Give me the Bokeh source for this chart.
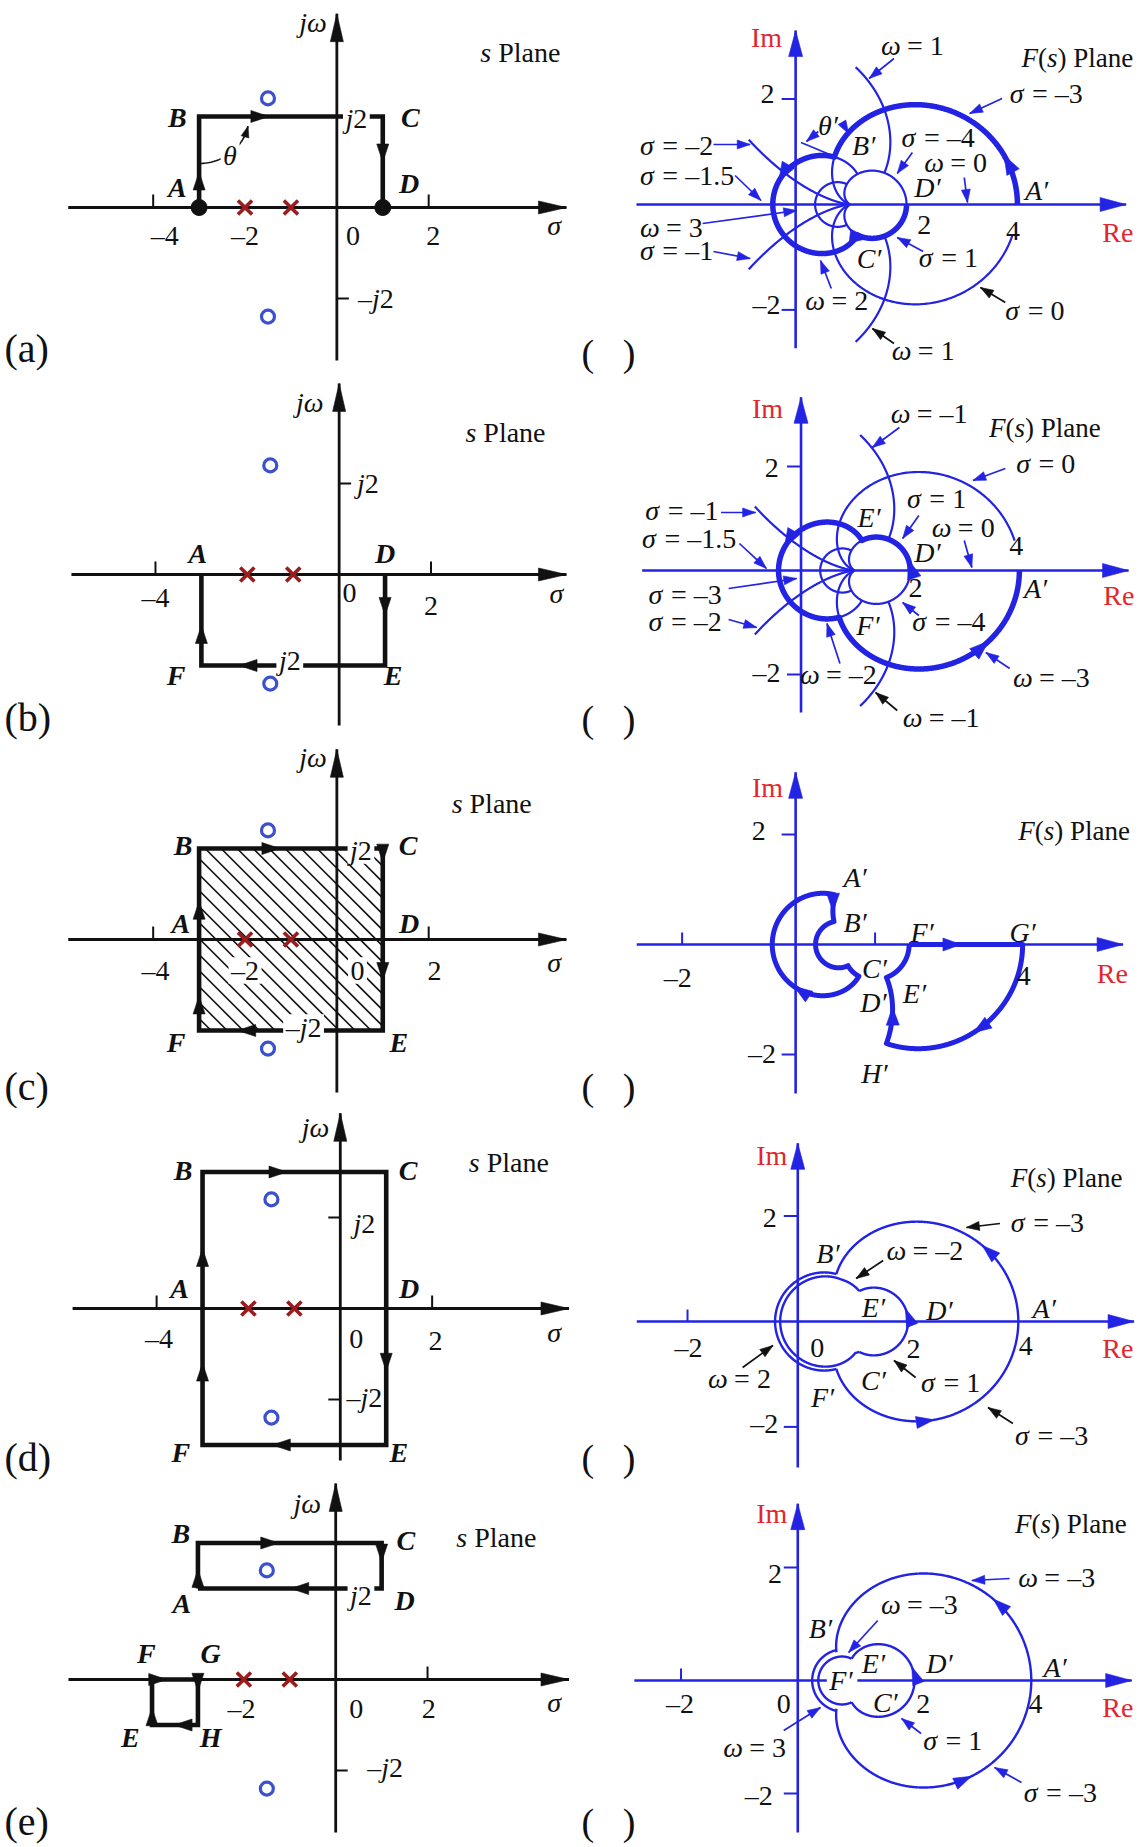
import numpy as np
from bokeh.plotting import figure
from bokeh.models import Range1d
from bokeh.layouts import column, row
from bokeh.embed import file_html
from bokeh.resources import INLINE
from bokeh.core.properties import value

# ------------------------------------------------------------------ data
NUM = [1.0, 3.0, 8.0]          # F(s) = (s^2 + 3 s + 8) / ((s + 1)(s + 2))
DEN = [1.0, 3.0, 2.0]
POLES = np.roots(DEN)
ZEROS = np.roots(NUM)

# s-plane contours, vertices (sigma, omega)
CONTOUR_A = [(-3, 0), (-3, 2), (1, 2), (1, 0)]
CONTOUR_B = [(1, 0), (1, -2), (-3, -2), (-3, 0)]
CONTOUR_C = [(-3, 0), (-3, 2), (1, 2), (1, 0), (1, -2), (-3, -2), (-3, 0)]
CONTOUR_D = [(-3, 0), (-3, 3), (1, 3), (1, 0), (1, -3), (-3, -3), (-3, 0)]
CONTOUR_E1 = [(-3, 2), (-3, 3), (1, 3), (1, 2), (-3, 2)]
CONTOUR_E2 = [(-4, 0), (-3, 0), (-3, -1), (-4, -1), (-4, 0)]

S_TICKS_SIGMA = [[-4, 2], [-4, 2], [-4, 2], [-4, 2], [2]]
S_TICKS_JW = [[-2], [2], [], [2, -2], [-2]]
F_TICKS_IM = [-2, 2]
F_TICKS_RE = [[], [], [-2, 1.4], [-2], [-2]]

# images of s-plane lines: (family, constant, from, to); "sigma": s = c + j t, "omega": s = t + j c
GRID_A_THIN = [("sigma", -3, 2, 12), ("sigma", 0, 0.13, 12), ("sigma", -4, 0, 12),
               ("sigma", 1, 2, 12), ("sigma", -2, 1.5, 25), ("sigma", -1, 1.5, 25),
               ("omega", 1, -4, -2.65), ("omega", 1, -0.35, 1), ("omega", 2, -4, -3),
               ("omega", 3, -4, 1)]
GRID_A_THICK = [("sigma", -3, 0, 2), ("omega", 2, -3, 1), ("sigma", 1, 2, 0)]
GRID_B_THIN = [("sigma", -3, -2, -12), ("sigma", 0, -0.13, -12), ("sigma", -4, 0, -12),
               ("sigma", 1, -2, -12), ("sigma", -2, -1.5, -25), ("sigma", -1, -1.5, -25),
               ("omega", -1, -4, -2.65), ("omega", -1, -0.35, 1), ("omega", -2, -4, -3),
               ("omega", -3, -4, 1)]
GRID_B_THICK = [("sigma", 1, 0, -2), ("omega", -2, 1, -3), ("sigma", -3, -2, 0)]

# ------------------------------------------------------------------ style / layout
FONT = "Liberation Serif"
BLUE = "#2323e4"
RED = "#e3262d"
POLE = "#9b1c1c"
ZERO = "#3b50cf"
BLACK = "#111111"

# positions below were read on horizontally squeezed crops; these factors restore page pixels
LX = 1800.0 / 1568.0
RX = 1695.0 / 1568.0


def lx(x):
    return x * LX


def rx(x):
    return 580.0 + (x - 580.0) * RX


ROW_T = [0, 378, 740, 1108, 1480]
ROW_H = [378, 362, 368, 372, 367]
W1, W2 = 578, 567
S_KX, S_KY = 40.0 * LX, 45.5

W_ROMAN = {' ': 0.25, '\u00a0': 0.25, '=': 0.564, '–': 0.5, '.': 0.25, '(': 0.333, ')': 0.333,
           'P': 0.556, 'l': 0.278, 'a': 0.444, 'n': 0.5, 'e': 0.444, 'I': 0.333, 'm': 0.778,
           'R': 0.667, 'b': 0.5, 'c': 0.444, 'd': 0.5}
W_ITAL = {'σ': 0.55, 'ω': 0.68, 's': 0.389, 'F': 0.611, 'j': 0.278, 'θ': 0.5, 'A': 0.611,
          'B': 0.611, 'C': 0.667, 'D': 0.722, 'E': 0.611, 'G': 0.722, 'H': 0.722, '′': 0.3,
          '\u00a0': 0.25}
W_BI = {'A': 0.667, 'B': 0.667, 'C': 0.667, 'D': 0.722, 'E': 0.667, 'F': 0.667, 'G': 0.722,
        'H': 0.778}


def text_width(s, style, size):
    if style == "normal":
        tbl = W_ROMAN
    elif style == "italic":
        tbl = W_ITAL
    else:
        tbl = {**W_ITAL, **W_BI}
    return sum(tbl.get(ch, 0.5) for ch in s) * size


def R(s):
    return [(s, "normal")]


def It(s):
    return [(s, "italic")]


def Bi(s):
    return [(s, "bold italic")]


def lab(sym, rest):
    return [(sym, "italic"), (rest, "normal")]


J2 = [("j", "italic"), ("2", "normal")]
MJ2 = [("–", "normal"), ("j", "italic"), ("2", "normal")]
SPLANE = [("s", "italic"), (" Plane", "normal")]
FPLANE = [("F", "italic"), ("(", "normal"), ("s", "italic"), (") Plane", "normal")]


def fmap(kind, c, t0, t1, n=500):
    u = np.linspace(0.0, 1.0, n)
    if abs(t1 - t0) > 5:
        u = u ** 2
    t = t0 + (t1 - t0) * u
    s = (c + 1j * t) if kind == "sigma" else (t + 1j * c)
    return np.polyval(NUM, s) / np.polyval(DEN, s)


def fpt(kind, c, t):
    s = (c + 1j * t) if kind == "sigma" else (t + 1j * c)
    z = np.polyval(NUM, s) / np.polyval(DEN, s)
    return (z.real, z.imag)


def seg_specs(contour):
    out = []
    for (a, b), (c, d) in zip(contour[:-1], contour[1:]):
        if a == c:
            out.append(("sigma", a, b, d))
        else:
            out.append(("omega", b, a, c))
    return out


class Panel:
    def __init__(self, left, top, width, height, ox, oy, kx, ky, conv):
        self.ox, self.oy, self.kx, self.ky, self.conv = ox, oy, kx, ky, conv
        self.p = figure(width=width, height=height, title=None,
                        x_range=Range1d((left - ox) / kx, (left + width - ox) / kx),
                        y_range=Range1d((oy - top - height) / ky, (oy - top) / ky),
                        output_backend="svg", toolbar_location=None,
                        x_axis_location=None, y_axis_location=None, min_border=0)
        self.p.outline_line_color = None
        self.p.grid.visible = False
        self.p.background_fill_color = "white"
        self.p.border_fill_color = "white"
        self.heads = {}
        self.texts = []
        self.bgs = []

    def Xt(self, px):
        return (px - self.ox) / self.kx

    def X(self, px_raw):
        return self.Xt(self.conv(px_raw))

    def Y(self, py):
        return (self.oy - py) / self.ky

    def head(self, tip, back, length, half, color):
        dx = (tip[0] - back[0]) * self.kx
        dy = (tip[1] - back[1]) * self.ky
        n = np.hypot(dx, dy)
        ux, uy = dx / n, dy / n
        corners = [(0.0, 0.0),
                   (-ux * length - uy * half, -uy * length + ux * half),
                   (-ux * length + uy * half, -uy * length - ux * half)]
        xs = [tip[0] + a / self.kx for a, b in corners]
        ys = [tip[1] + b / self.ky for a, b in corners]
        d = self.heads.setdefault(color, ([], []))
        d[0].append(xs)
        d[1].append(ys)

    def pointer(self, x0, y0, x1, y1, color, width=1.7, length=13, half=4.5):
        a = (self.X(x0), self.Y(y0))
        b = (self.X(x1), self.Y(y1))
        self.p.line([a[0], b[0]], [a[1], b[1]], line_color=color, line_width=width)
        self.head(b, a, length, half, color)

    def mtext(self, parts, x, y, size=28, anchor="c", bg=False, color=BLACK, raw=True):
        parts = [(s.replace(" ", "\u00a0"), st) for s, st in parts]
        widths = [text_width(s, st, size) for s, st in parts]
        total = sum(widths)
        xt = self.conv(x) if raw else x
        cur = xt - total / 2 if anchor == "c" else xt
        if bg:
            self.bgs.append((self.Xt(cur + total / 2), self.Y(y), total + 5, size * 0.95))
        for (s, st), w in zip(parts, widths):
            self.texts.append((self.Xt(cur), self.Y(y), s, st, size, color))
            cur += w

    def finish(self):
        p = self.p
        for color, (xs, ys) in self.heads.items():
            p.patches(xs, ys, fill_color=color, line_color=color, line_width=0.6)
        if self.bgs:
            p.rect(x=[b[0] for b in self.bgs], y=[b[1] for b in self.bgs],
                   width=[b[2] for b in self.bgs], height=[b[3] for b in self.bgs],
                   width_units="screen", height_units="screen",
                   fill_color="white", line_color=None)
        groups = {}
        for x, y, s, st, sz, col in self.texts:
            groups.setdefault((st, sz, col), []).append((x, y, s))
        for (st, sz, col), items in groups.items():
            p.text(x=[a[0] for a in items], y=[a[1] for a in items], text=[a[2] for a in items],
                   text_font=value(FONT), text_font_style=st, text_font_size=f"{sz}px",
                   text_color=col, text_align="left", text_baseline="middle")
        return p


# ------------------------------------------------------------------ s-plane layout (raw readings)
S_ROWS = [
    dict(name="(a)", ox=293, oy=207, sig=(-5.85, 5.0), jw=(-3.36, 4.26), jside=[1],
         contours=[CONTOUR_A], heads=[(0, 0, 0.37), (0, 1, 0.36), (0, 2, 0.48)],
         dots=True, hatch=False, theta=True, label_y=348,
         texts=[(R("–4"), 143, 235, "c", False), (R("–2"), 213, 235, "c", False),
                (R("0"), 307, 235, "c", False), (R("2"), 377, 235, "c", False),
                (It("σ"), 483, 225, "c", False), (It("jω"), 272, 22, "c", False),
                (SPLANE, 418, 52, "l", False), (J2, 310, 118, "c", True),
                (MJ2, 327, 298, "c", False),
                (Bi("B"), 154, 117, "c", False), (Bi("C"), 357, 117, "c", False),
                (Bi("A"), 154, 187, "c", False), (Bi("D"), 356, 183, "c", False),
                (It("θ"), 200, 155, "c", True)]),
    dict(name="(b)", ox=295, oy=574, sig=(-5.83, 4.95), jw=(-3.32, 4.2), jside=[1],
         contours=[CONTOUR_B], heads=[(0, 0, 0.43), (0, 1, 0.775), (0, 2, 0.42)],
         dots=False, hatch=False, theta=False, label_y=717,
         texts=[(R("–4"), 135, 597, "c", False), (R("0"), 304, 592, "c", False),
                (R("2"), 375, 605, "c", False), (It("σ"), 485, 593, "c", False),
                (It("jω"), 269, 402, "c", False), (SPLANE, 405, 432, "l", False),
                (J2, 320, 483, "c", False), (J2, 252, 660, "c", True),
                (Bi("A"), 172, 553, "c", False), (Bi("D"), 335, 553, "c", False),
                (Bi("F"), 153, 675, "c", False), (Bi("E"), 342, 675, "c", False)]),
    dict(name="(c)", ox=293, oy=939, sig=(-5.85, 5.0), jw=(-3.36, 4.18), jside=[],
         contours=[CONTOUR_C],
         heads=[(0, 0, 0.4), (0, 1, 0.42), (0, 2, 0.13), (0, 3, 0.43), (0, 4, 0.77), (0, 5, 0.36)],
         dots=False, hatch=True, theta=False, label_y=1086,
         texts=[(R("–4"), 135, 970, "c", False), (R("–2"), 213, 970, "c", True),
                (R("0"), 311, 970, "c", True), (R("2"), 378, 970, "c", False),
                (It("σ"), 483, 962, "c", False), (It("jω"), 272, 757, "c", False),
                (SPLANE, 393, 803, "l", False), (J2, 314, 850, "c", True),
                (MJ2, 264, 1027, "c", True),
                (Bi("B"), 159, 845, "c", False), (Bi("C"), 355, 845, "c", False),
                (Bi("A"), 157, 923, "c", False), (Bi("D"), 356, 923, "c", False),
                (Bi("F"), 153, 1042, "c", False), (Bi("E"), 347, 1042, "c", False)]),
    dict(name="(d)", ox=296, oy=1308, sig=(-5.83, 4.98), jw=(-3.34, 4.29), jside=[-1, -1],
         contours=[CONTOUR_D],
         heads=[(0, 0, 0.42), (0, 1, 0.44), (0, 3, 0.44), (0, 4, 0.6), (0, 5, 0.58)],
         dots=False, hatch=False, theta=False, label_y=1457,
         texts=[(R("–4"), 138, 1338, "c", False), (R("0"), 310, 1338, "c", False),
                (R("2"), 379, 1340, "c", False), (It("σ"), 483, 1332, "c", False),
                (It("jω"), 274, 1127, "c", False), (SPLANE, 408, 1162, "l", False),
                (J2, 317, 1223, "c", False), (MJ2, 317, 1397, "c", False),
                (Bi("B"), 159, 1170, "c", False), (Bi("C"), 355, 1170, "c", False),
                (Bi("A"), 156, 1288, "c", False), (Bi("D"), 356, 1288, "c", False),
                (Bi("F"), 157, 1452, "c", False), (Bi("E"), 347, 1452, "c", False)]),
    dict(name="(e)", ox=292, oy=1679, sig=(-5.82, 5.08), jw=(-3.36, 4.31), jside=[1],
         contours=[CONTOUR_E1, CONTOUR_E2],
         heads=[(0, 0, 0.4), (0, 1, 0.42), (0, 2, 0.4), (0, 3, 0.475),
                (1, 0, 0.3), (1, 1, 0.24), (1, 2, 0.5), (1, 3, 0.36)],
         dots=False, hatch=False, theta=False, label_y=1821,
         texts=[(R("–2"), 210, 1708, "c", False), (R("0"), 310, 1708, "c", False),
                (R("2"), 373, 1708, "c", False), (It("σ"), 483, 1702, "c", False),
                (It("jω"), 267, 1503, "c", False), (SPLANE, 397, 1537, "l", False),
                (J2, 314, 1595, "c", True), (MJ2, 335, 1767, "c", False),
                (Bi("B"), 157, 1533, "c", False), (Bi("C"), 353, 1540, "c", False),
                (Bi("A"), 158, 1603, "c", False), (Bi("D"), 352, 1600, "c", False),
                (Bi("F"), 127, 1653, "c", False), (Bi("G"), 183, 1653, "c", False),
                (Bi("E"), 113, 1737, "c", False), (Bi("H"), 183, 1737, "c", False)]),
]


def build_s(i, cfg):
    P = Panel(0, ROW_T[i], W1, ROW_H[i], lx(cfg["ox"]), cfg["oy"], S_KX, S_KY, lx)
    p = P.p
    s0, s1 = cfg["sig"]
    j0, j1 = cfg["jw"]
    p.line([s0, s1], [0, 0], line_color=BLACK, line_width=2.8)
    P.head((s1, 0), (s0, 0), 28, 6.5, BLACK)
    p.line([0, 0], [j0, j1], line_color=BLACK, line_width=2.8)
    P.head((0, j1), (0, j0), 28, 6.5, BLACK)
    xs, ys = [], []
    for t in S_TICKS_SIGMA[i]:
        xs.append([t, t])
        ys.append([0, 13 / S_KY])
    for t, side in zip(S_TICKS_JW[i], cfg["jside"]):
        xs.append([0, side * 12 / S_KX])
        ys.append([t, t])
    if xs:
        p.multi_line(xs, ys, line_color=BLACK, line_width=2)
    if cfg["hatch"]:
        cx = [v[0] for v in cfg["contours"][0]]
        cy = [v[1] for v in cfg["contours"][0]]
        X0, X1 = min(cx) * S_KX, max(cx) * S_KX
        Y0, Y1 = min(cy) * S_KY, max(cy) * S_KY
        hx, hy = [], []
        for c in np.arange(X0 + Y0 + 12, X1 + Y1, 16.0):
            a = max(X0, c - Y1)
            b = min(X1, c - Y0)
            if b > a:
                hx.append([a / S_KX, b / S_KX])
                hy.append([(c - a) / S_KY, (c - b) / S_KY])
        p.multi_line(hx, hy, line_color=BLACK, line_width=1.6)
    for cont in cfg["contours"]:
        p.line([v[0] for v in cont], [v[1] for v in cont], line_color=BLACK,
               line_width=4.6, line_join="miter")
    for ci, seg, frac in cfg["heads"]:
        v0 = np.array(cfg["contours"][ci][seg], float)
        v1 = np.array(cfg["contours"][ci][seg + 1], float)
        tip = v0 + (frac + 0.02) * (v1 - v0)
        P.head(tuple(tip), tuple(v0), 18, 6, BLACK)
    if cfg["theta"]:
        b = CONTOUR_A[1]
        ang = np.radians(np.linspace(-88, -12, 40))
        ax = b[0] + 50 * np.cos(ang) / S_KX
        ay = b[1] + 47 * np.sin(ang) / S_KY
        p.line(ax, ay, line_color=BLACK, line_width=1.6)
        P.head((ax[-1], ay[-1]), (ax[-4], ay[-4]), 11, 4, BLACK)
    p.scatter(POLES.real, POLES.imag, marker="x", size=20, line_color=POLE, line_width=3.6)
    p.scatter(ZEROS.real, ZEROS.imag, marker="circle", size=13, fill_color="white",
              line_color=ZERO, line_width=3.2)
    if cfg["dots"]:
        pts = [CONTOUR_A[0], CONTOUR_A[-1]]
        p.scatter([v[0] for v in pts], [v[1] for v in pts], marker="circle", size=16,
                  fill_color=BLACK, line_color=BLACK)
    for parts, x, y, anc, bg in cfg["texts"]:
        P.mtext(parts, x, y, size=28, anchor=anc, bg=bg)
    P.mtext(R(cfg["name"]), 4, cfg["label_y"], size=40, anchor="l", raw=False)
    return P.finish()


# ------------------------------------------------------------------ F-plane layout (raw readings)
E1_SPECS = seg_specs(CONTOUR_E1)
E2_SPECS = seg_specs(CONTOUR_E2)

F_ROWS = [
    dict(ox=779, oy=204, kx=51.3, ky=52.7, re=(-2.87, 5.96), im=(-2.73, 3.3), center=(0.75, 0),
         pieces=[([g], 2.2, 1.0, False) for g in GRID_A_THIN] + [(GRID_A_THICK, 5.5, 1.0, False)],
         arrows=[("sigma", -3, 0.22, 1), ("omega", 2, -1.85, 1), ("sigma", 1, 1.5, -1)],
         ahead=(19, 7),
         pointers=[(870, 58, 847, 78, BLUE), (970, 98, 940, 113, BLUE), (887, 152, 873, 173, BLUE),
                   (935, 177, 938, 202, BLUE), (703, 144, 737, 144, BLUE), (723, 175, 747, 200, BLUE),
                   (693, 223, 780, 210, BLUE), (703, 251, 737, 258, BLUE), (812, 288, 802, 260, BLUE),
                   (897, 251, 873, 237, BLUE), (973, 302, 950, 287, BLACK), (870, 343, 850, 328, BLACK),
                   (800, 131, 789, 141, BLUE), (822, 122, 828, 133, BLUE)],
         extra_lines=[(784, 142, 815, 156)],
         labels=[(lab("ω", " = 1"), 858, 45), (lab("σ", " = –3"), 977, 93),
                 (lab("σ", " = –4"), 877, 137), (lab("ω", " = 0"), 898, 162),
                 (lab("σ", " = –2"), 635, 145), (lab("σ", " = –1.5"), 635, 175),
                 (lab("ω", " = 3"), 635, 227), (lab("σ", " = –1"), 635, 250),
                 (lab("ω", " = 2"), 788, 300), (lab("σ", " = 1"), 893, 257),
                 (lab("σ", " = 0"), 973, 310), (lab("ω", " = 1"), 868, 350)],
         letters=[("B′", 843, 145, False), ("D′", 902, 187, False), ("A′", 1003, 190, False),
                  ("C′", 848, 258, False), ("θ′", 810, 125, False)],
         ticklabels=[("2", 753, 93), ("–2", 752, 304), ("2", 898, 224), ("4", 980, 230)],
         imlab=(752, 37), relab=(1077, 232), fplane=(988, 57), paren=352),
    dict(ox=784, oy=570, kx=50.5, ky=52.0, re=(-2.91, 6.0), im=(-2.73, 3.33), center=(0.75, 0),
         pieces=[([g], 2.2, 1.0, False) for g in GRID_B_THIN] + [(GRID_B_THICK, 5.5, 1.0, False)],
         arrows=[("sigma", -3, -0.35, 1), ("omega", -2, -1.15, -1), ("sigma", 1, -0.25, -1)],
         ahead=(19, 7),
         pointers=[(875, 427, 850, 447, BLUE), (973, 468, 943, 480, BLUE), (893, 515, 878, 538, BLUE),
                   (935, 540, 942, 567, BLUE), (710, 512, 742, 512, BLUE), (727, 543, 752, 568, BLUE),
                   (717, 588, 780, 578, BLUE), (717, 619, 743, 627, BLUE), (893, 615, 878, 602, BLUE),
                   (820, 663, 808, 623, BLUE), (977, 668, 955, 652, BLUE), (873, 710, 853, 692, BLACK)],
         extra_lines=[],
         labels=[(lab("ω", " = –1"), 867, 413), (lab("σ", " = 0"), 983, 463),
                 (lab("σ", " = 1"), 882, 498), (lab("ω", " = 0"), 905, 527),
                 (lab("σ", " = –1"), 640, 510), (lab("σ", " = –1.5"), 637, 538),
                 (lab("σ", " = –3"), 643, 594), (lab("σ", " = –2"), 643, 621),
                 (lab("σ", " = –4"), 887, 621), (lab("ω", " = –2"), 783, 674),
                 (lab("ω", " = –3"), 980, 677), (lab("ω", " = –1"), 878, 717)],
         letters=[("E′", 848, 517, False), ("D′", 902, 552, False), ("A′", 1002, 588, False),
                  ("F′", 847, 625, False)],
         ticklabels=[("2", 757, 467), ("–2", 752, 672), ("2", 890, 587), ("4", 983, 545)],
         imlab=(753, 408), relab=(1078, 595), fplane=(958, 427), paren=718),
    dict(ox=779, oy=944, kx=52.5, ky=55.0, re=(-2.8, 5.77), im=(-2.71, 3.13), center=(0.75, 0),
         pieces=[(E1_SPECS, 5.0, 1.0, False), (E2_SPECS, 5.0, 1.0, False)],
         arrows=[("sigma", -3, 2.5, 1), ("omega", 2, -0.8, -1), ("omega", 0, -3.34, 1),
                 ("sigma", -3, -0.45, -1), ("omega", -1, -3.4, -1)],
         ahead=(18, 6.5),
         pointers=[], extra_lines=[], labels=[],
         letters=[("A′", 835, 877, False), ("B′", 835, 922, False), ("F′", 897, 932, False),
                  ("G′", 990, 932, False), ("C′", 853, 968, False), ("E′", 890, 993, False),
                  ("D′", 852, 1002, False), ("H′", 853, 1073, False)],
         ticklabels=[("2", 745, 830), ("–2", 748, 1053), ("–2", 670, 977), ("4", 990, 975)],
         imlab=(753, 787), relab=(1072, 973), fplane=(985, 830), paren=1086),
    dict(ox=781, oy=1321, kx=51.0, ky=52.7, re=(-2.92, 6.1), im=(-2.77, 3.38), center=(0.75, 0),
         pieces=[([("sigma", -3, 0, 2)], 2.4, 1.0, False),
                 ([("omega", 2, -3, 0)], 2.4, 1.0, False),
                 ([("omega", -2, 1, -3), ("omega", 2, 0, 1)], 2.4, 0.92, True),
                 ([("sigma", 1, 2, -2)], 2.4, 1.0, False),
                 ([("sigma", -3, -2, 0)], 2.4, 1.0, False)],
         arrows=[("sigma", -3, 0.38, 1), ("sigma", -3, -0.66, 1), ("sigma", 1, -0.3, -1)],
         ahead=(18, 6),
         pointers=[(968, 1223, 937, 1227, BLACK), (860, 1260, 835, 1278, BLACK),
                   (730, 1367, 758, 1345, BLACK), (890, 1377, 870, 1360, BLACK),
                   (980, 1423, 957, 1407, BLACK)],
         extra_lines=[],
         labels=[(lab("σ", " = –3"), 978, 1222), (lab("ω", " = –2"), 863, 1250),
                 (lab("ω", " = 2"), 698, 1378), (lab("σ", " = 1"), 895, 1382),
                 (lab("σ", " = –3"), 982, 1435)],
         letters=[("B′", 810, 1253, False), ("E′", 852, 1307, False), ("D′", 913, 1310, False),
                  ("A′", 1010, 1308, False), ("C′", 852, 1380, False), ("F′", 805, 1397, False)],
         ticklabels=[("2", 755, 1217), ("–2", 750, 1423), ("–2", 680, 1347), ("0", 799, 1347),
                     ("2", 888, 1348), ("4", 992, 1345)],
         imlab=(757, 1155), relab=(1077, 1348), fplane=(978, 1177), paren=1457),
    dict(ox=781, oy=1680, kx=54.0, ky=56.5, re=(-2.8, 5.72), im=(-2.69, 3.13), center=(0.7, 0),
         pieces=[([("sigma", -3, 0, 2.75)], 2.4, 1.0, False),
                 ([("omega", 3, -3, 0)], 2.4, 1.3, False),
                 ([("omega", -3, 1, -3), ("omega", 3, 0, 1)], 2.4, 1.0, False),
                 ([("sigma", 1, 3, -3)], 2.4, 1.0, False),
                 ([("sigma", -3, -2.75, 0)], 2.4, 1.0, False)],
         arrows=[("sigma", -3, 0.38, 1), ("sigma", -3, -0.5, 1), ("sigma", 1, -0.3, -1)],
         ahead=(18, 6),
         pointers=[(977, 1578, 942, 1580, BLUE), (855, 1620, 828, 1652, BLUE),
                   (768, 1730, 802, 1707, BLUE), (895, 1733, 877, 1718, BLUE),
                   (988, 1782, 963, 1767, BLUE)],
         extra_lines=[],
         labels=[(lab("ω", " = –3"), 985, 1577), (lab("ω", " = –3"), 858, 1604),
                 (lab("ω", " = 3"), 712, 1747), (lab("σ", " = 1"), 897, 1740),
                 (lab("σ", " = –3"), 990, 1792)],
         letters=[("B′", 803, 1628, False), ("E′", 852, 1663, False), ("D′", 913, 1663, False),
                  ("A′", 1020, 1667, False), ("F′", 822, 1680, True), ("C′", 863, 1702, False)],
         ticklabels=[("2", 760, 1573), ("–2", 745, 1795), ("–2", 672, 1703), ("0", 768, 1703),
                     ("2", 897, 1703), ("4", 1001, 1703)],
         imlab=(757, 1513), relab=(1077, 1707), fplane=(982, 1523), paren=1821),
]


def build_f(i, cfg):
    P = Panel(W1, ROW_T[i], W2, ROW_H[i], rx(cfg["ox"]), cfg["oy"], cfg["kx"] * RX, cfg["ky"], rx)
    p = P.p
    r0, r1 = cfg["re"]
    i0, i1 = cfg["im"]
    p.line([r0, r1], [0, 0], line_color=BLUE, line_width=2.6)
    P.head((r1, 0), (r0, 0), 26, 7, BLUE)
    p.line([0, 0], [i0, i1], line_color=BLUE, line_width=2.6)
    P.head((0, i1), (0, i0), 26, 7, BLUE)
    xs, ys = [], []
    for t in F_TICKS_IM:
        xs.append([-14 / P.kx, 0])
        ys.append([t, t])
    for t in F_TICKS_RE[i]:
        xs.append([t, t])
        ys.append([0, 12 / P.ky])
    p.multi_line(xs, ys, line_color=BLUE, line_width=2)
    c = complex(*cfg["center"])
    for specs, w, k, taper in cfg["pieces"]:
        z = np.concatenate([fmap(*sp) for sp in specs])
        if k != 1.0:
            u = np.linspace(0, 1, len(z))
            kk = np.full(len(z), k)
            if taper:
                kk = 1 - (1 - k) * np.clip(3 * np.sin(np.pi * u), 0, 1)
            z = c + (z - c) * kk
        p.line(z.real, z.imag, line_color=BLUE, line_width=w, line_join="round")
    L, Hh = cfg["ahead"]
    for kind, cc, t, d in cfg["arrows"]:
        tip = fpt(kind, cc, t)
        back = fpt(kind, cc, t - d * 0.03)
        P.head(tip, back, L, Hh, BLUE)
    for x0, y0, x1, y1 in cfg["extra_lines"]:
        p.line([P.X(x0), P.X(x1)], [P.Y(y0), P.Y(y1)], line_color=BLUE, line_width=1.7)
    for x0, y0, x1, y1, col in cfg["pointers"]:
        P.pointer(x0, y0, x1, y1, col)
    for parts, x, y in cfg["labels"]:
        P.mtext(parts, x, y, size=28, anchor="l")
    for s, x, y, bg in cfg["letters"]:
        P.mtext(It(s), x, y, size=28, anchor="c", bg=bg)
    for s, x, y in cfg["ticklabels"]:
        P.mtext(R(s), x, y, size=28, anchor="c")
    P.mtext(R("Im"), cfg["imlab"][0], cfg["imlab"][1], size=28, color=RED)
    P.mtext(R("Re"), cfg["relab"][0], cfg["relab"][1], size=28, color=RED)
    P.mtext(FPLANE, cfg["fplane"][0], cfg["fplane"][1], size=27, anchor="l")
    P.mtext(R("(\u00a0\u00a0\u00a0)"), 608, cfg["paren"], size=38, anchor="c", raw=False)
    return P.finish()


rows = [row(build_s(i, S_ROWS[i]), build_f(i, F_ROWS[i])) for i in range(5)]
layout = column(*rows)
open("out.html", "w").write(file_html(layout, INLINE))
